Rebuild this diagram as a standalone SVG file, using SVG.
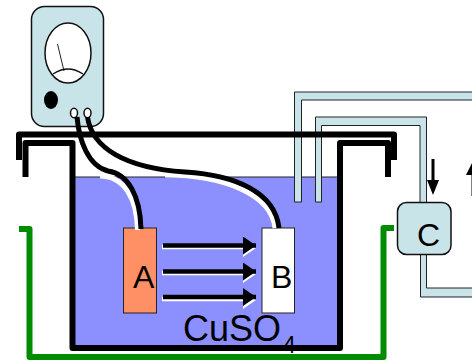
<svg xmlns="http://www.w3.org/2000/svg" width="472" height="360" viewBox="0 0 472 360">
<style>
.pipe{fill:#c8e4e8;stroke:#222;stroke-width:1}
.thick{fill:none;stroke:#000;stroke-width:6;stroke-linejoin:round}
.green{fill:none;stroke:#008c00;stroke-width:6;stroke-linejoin:round}
.wire{fill:none;stroke:#000;stroke-width:5}
.wirew{fill:none;stroke:#fff;stroke-width:5}
.lbl{font-family:"Liberation Sans",Arial,sans-serif;fill:#000}
.shaft{stroke:#000;stroke-width:4.500}
.shaftw{stroke:#fff;stroke-width:4.500}
</style>
<defs>
<marker id="ah" markerUnits="userSpaceOnUse" markerWidth="13" markerHeight="18" refX="13" refY="9" orient="auto"><path d="M0,0 L13,9 L0,18 Z" fill="#000"/></marker>
</defs>
<rect width="472" height="360" fill="#fff"/>
<g id="tank">
<rect x="75" y="177" width="262" height="168" fill="#8c90ff"/>
<line x1="75" y1="177" x2="337" y2="177" stroke="#222" stroke-width="1"/>
<path class="thick" d="M25.500,177 V143 H72.500 V348 H340 V143 H388 V177"/>
<path class="green" d="M19,229 H29.500 V357 H383.500 V228 H394"/>
</g>
<g id="pipes">
<path class="pipe" d="M294.500,202 V92 H473 V100 H301.500 V202 Z"/>
<path class="pipe" d="M315.500,202 V117 H426.500 V204 H420 V125.500 H321.500 V202 Z"/>
<path class="pipe" d="M420.500,252 V297 H473 V288 H426.500 V252 Z"/>
</g>
<g id="meter">
<rect x="31.500" y="6.500" width="72" height="120" rx="13" fill="#c8e4e8" stroke="#111" stroke-width="1.500"/>
<ellipse cx="68" cy="53" rx="23" ry="30" fill="#fff" stroke="#111" stroke-width="1.500"/>
<line x1="57.500" y1="44" x2="64" y2="71" stroke="#222" stroke-width="1"/>
<path d="M53,74 Q68,64 83,74" fill="none" stroke="#111" stroke-width="1.500"/>
<ellipse cx="51" cy="100" rx="7" ry="9" fill="#000"/>
<ellipse cx="74" cy="113" rx="3.500" ry="4.800" fill="#fff" stroke="#111" stroke-width="1.500"/>
<ellipse cx="87.500" cy="113" rx="3.500" ry="4.800" fill="#fff" stroke="#111" stroke-width="1.500"/>
</g>
<path class="thick" d="M19,160 V134.500 H394 V160"/>
<g id="node-a">
<rect x="123.500" y="228" width="33" height="85" fill="#ff9066" stroke="#222" stroke-width="1"/>
<text class="lbl" x="133" y="288" font-size="32">A</text>
</g>
<g id="node-b">
<rect x="262" y="228" width="32.500" height="85" fill="#fff" stroke="#222" stroke-width="1"/>
<text class="lbl" x="271" y="288" font-size="32">B</text>
</g>
<g id="connectors">
<path class="wirew" d="M100,176 C125,176 137,200 137.500,230"/>
<path class="wirew" d="M165,175 C225,175 272,195 275,228"/>
<path class="wire" d="M77,117 C79,140 88,166 108,171 C128,174 140,195 141,229"/>
<path class="wire" d="M87.500,117 C92,148 125,168 185,172 C235,175 275,192 279,228"/>
<line class="shaftw" x1="162" y1="247" x2="246" y2="247"/>
<line class="shaftw" x1="162" y1="273" x2="246" y2="273"/>
<line class="shaftw" x1="162" y1="299" x2="246" y2="299"/>
<path d="M243,239 L256,248 L243,257 Z" fill="#fff"/>
<path d="M243,265 L256,274 L243,283 Z" fill="#fff"/>
<path d="M243,291 L256,300 L243,309 Z" fill="#fff"/>
<line class="shaft" x1="163" y1="245.500" x2="256" y2="245.500" marker-end="url(#ah)"/>
<line class="shaft" x1="163" y1="271.500" x2="256" y2="271.500" marker-end="url(#ah)"/>
<line class="shaft" x1="163" y1="297" x2="256" y2="297" marker-end="url(#ah)"/>
<path d="M433,159 V185" stroke="#000" stroke-width="3" fill="none"/>
<path d="M427,180 H439 L433,195 Z" fill="#000"/>
<path d="M473,175 V196" stroke="#000" stroke-width="3" fill="none"/>
<path d="M466,175 H480 L473,161 Z" fill="#000"/>
</g>
<g id="node-c">
<rect x="397.500" y="202.500" width="53.500" height="52" rx="9" fill="#c8e4e8" stroke="#111" stroke-width="1.500"/>
<text class="lbl" x="417" y="246" font-size="32">C</text>
</g>
<g id="label-cuso4">
<text class="lbl" x="183" y="341" font-size="36">CuSO</text>
<text class="lbl" x="283" y="353" font-size="23">4</text>
</g>
</svg>
